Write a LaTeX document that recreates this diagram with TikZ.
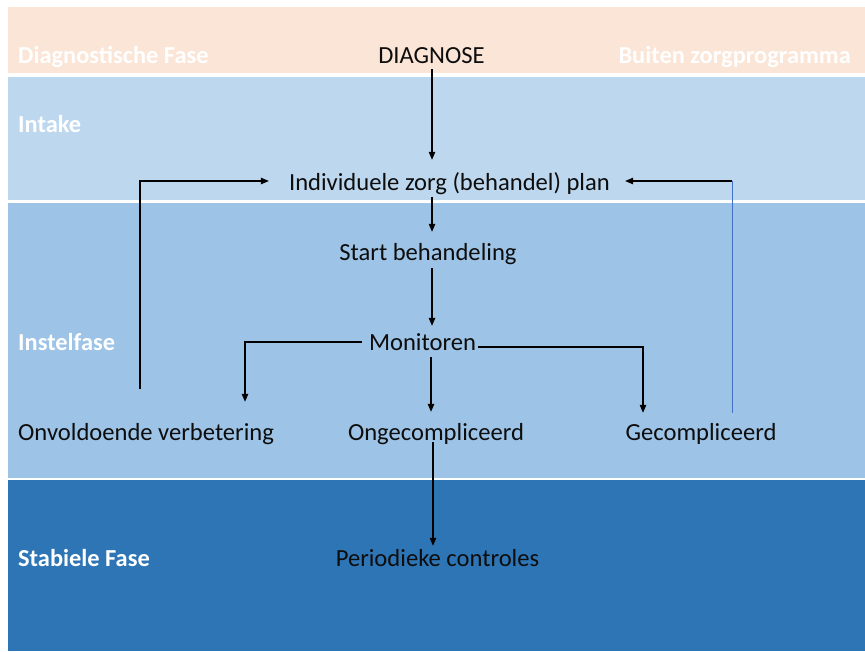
\documentclass[tikz,border=0pt]{standalone}
\usepackage{fontspec}
\setmainfont{Carlito}
\usetikzlibrary{arrows.meta}

\definecolor{peachband}{HTML}{FBE5D6}
\definecolor{intakeband}{HTML}{BDD7EE}
\definecolor{instelband}{HTML}{9DC3E6}
\definecolor{stabielband}{HTML}{2E75B6}
\definecolor{bluelink}{HTML}{4472C4}
\definecolor{inktext}{HTML}{0D0D0D}

\tikzset{
  stage/.style={inner sep=0pt, text height=17pt, text depth=5pt,
    font=\fontsize{24.6}{28}\selectfont, text=inktext},
  phase/.style={inner sep=0pt, text height=17pt, text depth=5pt,
    font=\fontsize{24.4}{28}\selectfont\bfseries, text=white},
  arr/.style={draw=black, line width=1.1pt,
    -{Triangle[length=8pt,width=6.5pt]}},
  plainlink/.style={draw=bluelink, line width=0.8pt},
}

\begin{document}
\begin{tikzpicture}[x=1pt, y=-1pt]
  \useasboundingbox (0,0) rectangle (865,651);
  \fill[white] (0,0) rectangle (865,651);

  % phase bands
  \fill[peachband]   (8,7)   rectangle (865,73);
  \fill[intakeband]  (8,77)  rectangle (865,200);
  \fill[instelband]  (8,203) rectangle (865,478);
  \fill[stabielband] (8,480) rectangle (865,651);

  % phase labels
  \node[phase, anchor=base west] (lblDiag)  at (18,63)  {Diagnostische Fase};
  \node[phase, anchor=base east] (lblOut)   at (851,63) {Buiten zorgprogramma};
  \node[phase, anchor=base west] (lblIntake) at (18,132) {Intake};
  \node[phase, anchor=base west] (lblInstel) at (18,350) {Instelfase};
  \node[phase, anchor=base west] (lblStab)  at (18,566) {Stabiele Fase};

  % process steps
  \node[stage, anchor=base] (diag)  at (431.5,63)  {DIAGNOSE};
  \node[stage, anchor=base] (plan)  at (449.5,190) {Individuele zorg (behandel) plan};
  \node[stage, anchor=base] (start) at (428,260)   {Start behandeling};
  \node[stage, anchor=base] (mon)   at (422.5,350) {Monitoren};
  \node[stage, anchor=base west] (onv) at (18,440) {Onvoldoende verbetering};
  \node[stage, anchor=base] (ong)   at (436,440)   {Ongecompliceerd};
  \node[stage, anchor=base] (gec)   at (701,440)   {Gecompliceerd};
  \node[stage, anchor=base] (per)   at (437.5,566) {Periodieke controles};

  % routing points
  \coordinate (spine) at (432,0);
  \coordinate (monL)  at (245,342);
  \coordinate (monR)  at (643,347);
  \coordinate (fbLb)  at (140,389);
  \coordinate (fbRb)  at (732,413);
  \coordinate (fbR)   at (732,181);

  % main flow
  \draw[arr, shorten <=1pt, shorten >=13pt] (diag.south -| spine) -- (plan.north -| spine);
  \draw[arr, shorten <=2pt, shorten >=11pt] (plan.south -| spine) -- (start.north -| spine);
  \draw[arr, shorten <=3pt, shorten >=7pt] (start.south -| spine) -- (mon.north -| spine);
  \draw[arr, shorten <=2pt, shorten >=11pt] (mon.south -| 431,0) -- (ong.north -| 431,0);
  \draw[arr, shorten <=2pt, shorten >=3pt] (ong.base -| 433,0) -- (per.north -| 433,0);

  % branches from monitoring
  \draw[arr, shorten >=21pt] ([xshift=-7pt,yshift=2pt]mon.west) -- (monL) -- (monL |- onv.north);
  \draw[arr, shorten >=10pt] ([xshift=2pt,yshift=-3pt]mon.east) -- (monR) -- (monR |- gec.north);

  % feedback loops to the plan
  \draw[arr, shorten >=20pt] (fbLb) |- ([yshift=3pt]plan.west);
  \draw[plainlink] (fbRb) -- (fbR);
  \draw[arr, shorten >=15pt] (fbR) -- ([yshift=3pt]plan.east);
\end{tikzpicture}
\end{document}
